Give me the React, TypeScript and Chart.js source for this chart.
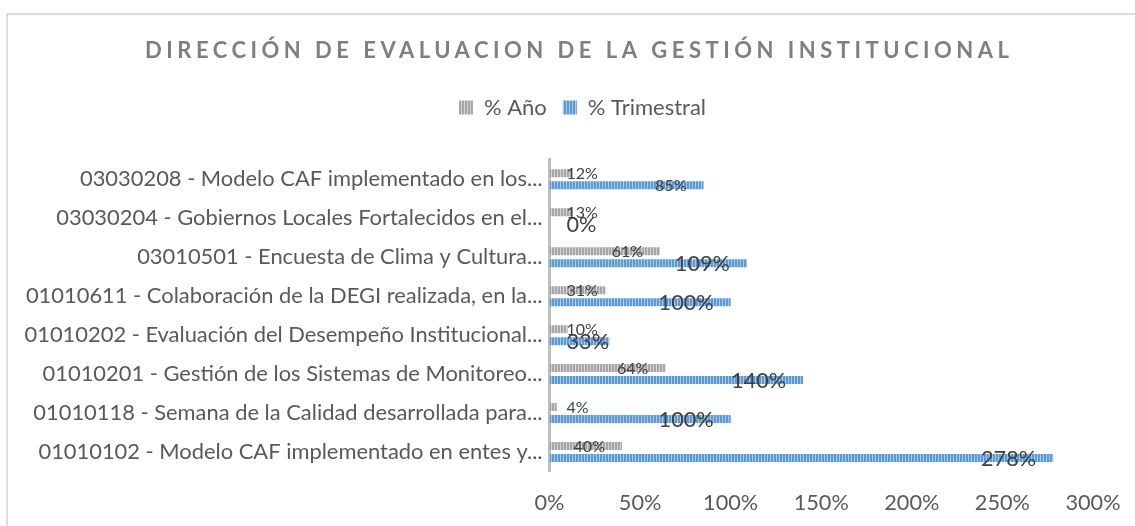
import React, { useEffect, useRef } from "react";
import { Chart, registerables } from "chart.js";

Chart.register(...registerables);

const chartTitle = "DIRECCIÓN DE EVALUACION DE LA GESTIÓN INSTITUCIONAL";
const categories = [
  "03030208 - Modelo CAF implementado en los...",
  "03030204 - Gobiernos Locales Fortalecidos en el...",
  "03010501 - Encuesta de Clima y Cultura...",
  "01010611 - Colaboración de la DEGI realizada, en la...",
  "01010202 - Evaluación del Desempeño Institucional...",
  "01010201 - Gestión de los Sistemas de Monitoreo...",
  "01010118 - Semana de la Calidad desarrollada para...",
  "01010102 - Modelo CAF implementado en entes y...",
];
const seriesNames = ["% Año", "% Trimestral"];
const anoValues = [12, 13, 61, 31, 10, 64, 4, 40];
const trimestralValues = [85, 0, 109, 100, 33, 140, 100, 278];
const xTickValues = [0, 50, 100, 150, 200, 250, 300];
// style only: which trimestral data labels use the large font
const trimestralLabelLarge = [false, true, true, true, true, true, true, true];

const FONT = "Lato, 'Open Sans', sans-serif";

function stripePattern(base: string, light: string): CanvasPattern {
  const c = document.createElement("canvas");
  c.width = 3;
  c.height = 4;
  const g = c.getContext("2d")!;
  g.fillStyle = base;
  g.fillRect(0, 0, 3, 4);
  g.fillStyle = light;
  g.fillRect(2, 0, 1, 4);
  return g.createPattern(c, "repeat")!;
}

export default function App() {
  const ref = useRef<HTMLCanvasElement>(null);

  useEffect(() => {
    const canvas = ref.current!;
    const grayPat = stripePattern("#a6a6a6", "#d3d3d3");
    const bluePat = stripePattern("#5b9bd5", "#a8c8ea");

    const legendSpacer = {
      id: "legendSpacer",
      afterInit(chart: any) {
        const lg = chart.legend;
        if (!lg) return;
        const orig = lg.fit;
        lg.fit = function () {
          orig.call(this);
          this.height += 31.3;
        };
      },
      afterLayout(chart: any) {
        const lg = chart.legend;
        if (!lg) return;
        const d = 582.5 - (lg.left + lg.right) / 2;
        lg.left += d;
        lg.right += d;
      },
    };

    const titlePlugin = {
      id: "spacedTitle",
      afterDraw(chart: any) {
        const c = chart.ctx as CanvasRenderingContext2D;
        c.save();
        c.font = `bold 22px ${FONT}`;
        c.fillStyle = "#7f7f7f";
        c.textBaseline = "middle";
        c.textAlign = "left";
        (c as any).letterSpacing = "0px";
        const w0 = c.measureText(chartTitle).width;
        const n = Array.from(chartTitle).length;
        const spacing = (864 - w0) / (n - 1);
        (c as any).letterSpacing = spacing + "px";
        c.fillText(chartTitle, 145, 51);
        c.restore();
      },
    };

    const labelPlugin = {
      id: "barLabels",
      afterDatasetsDraw(chart: any) {
        const c = chart.ctx as CanvasRenderingContext2D;
        const zero = chart.scales.x.getPixelForValue(0);
        c.save();
        chart.data.datasets.forEach((ds: any, di: number) => {
          const meta = chart.getDatasetMeta(di);
          meta.data.forEach((bar: any, i: number) => {
            const v = ds.data[i];
            const large = di === 1 && trimestralLabelLarge[i];
            const size = large ? 21.7 : 16;
            c.font = `${size}px ${FONT}`;
            const text = `${v}%`;
            const w = c.measureText(text).width;
            const x = Math.max(bar.x - 17 - w, zero + 17);
            c.fillStyle = "#404040";
            c.textAlign = "left";
            c.textBaseline = "middle";
            c.fillText(text, x, bar.y + 1);
          });
        });
        c.restore();
      },
    };

    const chart = new Chart(canvas, {
      type: "bar",
      data: {
        labels: categories,
        datasets: [
          {
            label: seriesNames[0],
            data: anoValues,
            backgroundColor: grayPat as any,
            borderWidth: 0,
            categoryPercentage: 0.616,
            barPercentage: 0.667,
          },
          {
            label: seriesNames[1],
            data: trimestralValues,
            backgroundColor: bluePat as any,
            borderWidth: 0,
            categoryPercentage: 0.616,
            barPercentage: 0.667,
          },
        ],
      },
      options: {
        indexAxis: "y",
        animation: false,
        responsive: true,
        maintainAspectRatio: false,
        layout: { padding: { top: 80.5, right: 42, bottom: 10, left: 0 } },
        plugins: {
          legend: {
            display: true,
            position: "top",
            labels: {
              boxWidth: 14,
              boxHeight: 14,
              padding: 16,
              color: "#595959",
              font: { family: FONT, size: 22 },
            },
          },
          title: { display: false },
          tooltip: { enabled: false },
        },
        scales: {
          x: {
            min: 0,
            max: 300,
            afterBuildTicks: (s: any) => {
              s.ticks = xTickValues.map((v) => ({ value: v }));
            },
            afterFit: (s: any) => {
              s.height = 44.5;
              s.paddingLeft = 0;
              s.paddingRight = 0;
            },
            ticks: {
              callback: (v: any) => v + "%",
              color: "#595959",
              font: { family: FONT, size: 21.7 },
              padding: 18.4,
              maxRotation: 0,
              autoSkip: false,
            },
            grid: { display: false, drawTicks: false },
            border: { display: false },
          },
          y: {
            z: 1,
            afterFit: (s: any) => {
              s.width = 549.5;
            },
            ticks: {
              color: "#595959",
              font: { family: FONT, size: 21.9 },
              padding: 7,
              autoSkip: false,
            },
            grid: { display: false, drawTicks: false },
            border: { display: true, color: "#bfbfbf", width: 3 },
          },
        },
      } as any,
      plugins: [legendSpacer, titlePlugin, labelPlugin],
    });

    return () => chart.destroy();
  }, []);

  return (
    <div
      style={{
        position: "absolute",
        left: 0,
        top: 0,
        width: 1135,
        height: 526,
        overflow: "hidden",
        background: "#ffffff",
      }}
    >
      <div
        style={{
          position: "absolute",
          left: 6,
          top: 13,
          width: 1200,
          height: 600,
          border: "2px solid #dcdcdc",
        }}
      />
      <div style={{ position: "absolute", left: 0, top: 0, width: 1135, height: 526 }}>
        <canvas ref={ref} />
      </div>
    </div>
  );
}
